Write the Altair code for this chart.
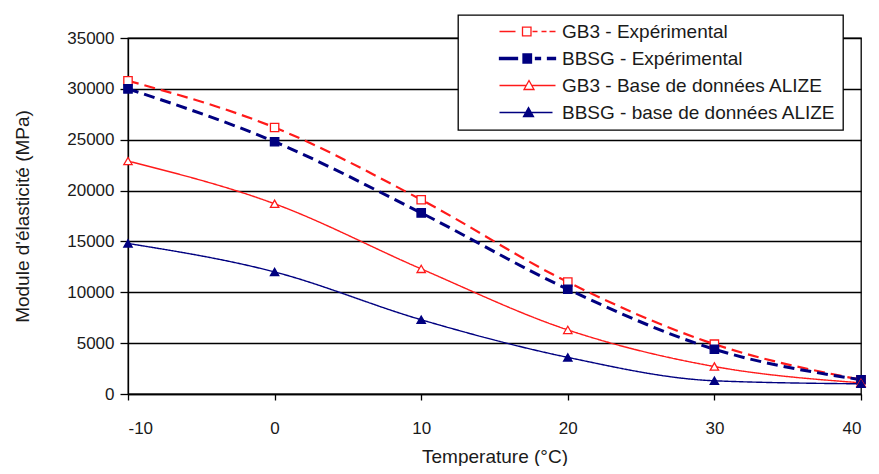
import altair as alt
import pandas as pd

# ---- data ----
temps = [-10, 0, 10, 20, 30, 40]
series = [
    "GB3 - Expérimental",
    "BBSG - Expérimental",
    "GB3 - Base de données ALIZE",
    "BBSG - base de données ALIZE",
]
gb3_exp = [30800, 26200, 19100, 11000, 4900, 1400]
bbsg_exp = [30000, 24800, 17800, 10300, 4400, 1400]
gb3_alize = [22900, 18700, 12300, 6300, 2700, 1100]
bbsg_alize = [14800, 12000, 7300, 3600, 1300, 1000]
markers = ["square", "square", "triangle-up", "triangle-up"]
y_ticks = [0, 5000, 10000, 15000, 20000, 25000, 30000, 35000]
x_ticks = [-10, 0, 10, 20, 30, 40]

rows = []
for name, vals, mk in zip(series, [gb3_exp, bbsg_exp, gb3_alize, bbsg_alize], markers):
    for t, v in zip(temps, vals):
        rows.append({"T": t, "E": v, "series": name, "marker": mk})
df = pd.DataFrame(rows)

RED = "#FF1A1A"
NAVY = "#000080"
FONT = "Liberation Sans"

# ---- legend glyphs (line + marker) as custom symbol paths ----
BOX_LEFT = 458
LEG_PAD = 7
SYM = 16  # symbol box size in px
CX = BOX_LEFT + LEG_PAD + SYM / 2
U = SYM / 2
G0 = BOX_LEFT + 40  # glyph start


def u(px):
    return f"{(px - CX) / U:.3f}"


def uy(py):
    return f"{py / U:.3f}"


def hseg(a, b):
    return f"M{u(G0 + a)},0H{u(G0 + b)}"


def rect(a, b, h):
    return f"M{u(G0 + a)},{uy(-h)}H{u(G0 + b)}V{uy(h)}H{u(G0 + a)}Z"


def tri(c, top, bot, half):
    return f"M{u(G0 + c)},{uy(top)}L{u(G0 + c + half)},{uy(bot)}H{u(G0 + c - half)}Z"


# glyph geometry in px measured from the glyph start
path_gb3_exp = hseg(0, 16) + hseg(33, 38) + hseg(42, 47) + hseg(50, 56) + rect(23, 31.5, 4.3)
path_bbsg_exp = rect(0, 18, 1.0) + rect(36, 41, 1.0) + rect(48, 56, 1.0) + rect(23.5, 32, 4.5)
path_gb3_alize = hseg(0, 26.8) + hseg(32.2, 56) + tri(29.5, -5, 4, 5)
path_bbsg_alize = hseg(0, 53) + tri(29, -5, 4, 5)
legend_paths = [path_gb3_exp, path_bbsg_exp, path_gb3_alize, path_bbsg_alize]

color_scale = alt.Scale(domain=series, range=[RED, NAVY, RED, NAVY])
fill_scale = alt.Scale(domain=series, range=["white", NAVY, "white", NAVY])
LEG = alt.Legend(title=None)

x_enc = alt.X(
    "T:Q",
    scale=alt.Scale(domain=[-10, 40], nice=False, zero=False),
    axis=alt.Axis(
        values=x_ticks, grid=False, labelExpr="'' + datum.value", title="Temperature (°C)",
        tickSize=6, labelPadding=20, titleY=68, titleBaseline="alphabetic",
        titleAnchor="middle",
    ),
)
y_enc = alt.Y(
    "E:Q",
    scale=alt.Scale(domain=[0, 35000], nice=False),
    axis=alt.Axis(
        values=y_ticks, grid=True, labelExpr="'' + datum.value", title="Module d'élasticité (MPa)",
        tickSize=8, labelPadding=6, titleX=-106, titleY=178, titleAngle=-90,
        titleAlign="center", titleBaseline="middle",
    ),
)

base = alt.Chart(df)

legend_layer = base.mark_point(opacity=0, strokeWidth=1.3).encode(
    x=x_enc,
    y=y_enc,
    color=alt.Color("series:N", scale=color_scale, legend=LEG),
    fill=alt.Fill("series:N", scale=fill_scale, legend=LEG),
    shape=alt.Shape("series:N", scale=alt.Scale(domain=series, range=legend_paths), legend=LEG),
)


def line_layer(name, dash, width):
    return base.transform_filter(alt.datum.series == name).mark_line(
        interpolate="monotone", strokeDash=dash, strokeWidth=width
    ).encode(
        x=x_enc,
        y=y_enc,
        color=alt.Color("series:N", scale=color_scale, legend=LEG),
    )


lines = [
    line_layer(series[0], [11, 6], 2.2),
    line_layer(series[1], [11, 6], 3),
    line_layer(series[2], [1, 0], 1.4),
    line_layer(series[3], [1, 0], 1.4),
]

points = base.mark_point(size=70, strokeWidth=1.3, opacity=1).encode(
    x=x_enc,
    y=y_enc,
    color=alt.Color("series:N", scale=color_scale, legend=LEG),
    fill=alt.Fill("series:N", scale=fill_scale, legend=LEG),
    shape=alt.Shape("marker:N", scale=None, legend=None),
)

chart = (
    alt.layer(legend_layer, *lines, points)
    .properties(
        width=733,
        height=356,
        autosize=alt.AutoSizeParams(type="none"),
        padding={"left": 120, "top": 30, "right": 9, "bottom": 72},
    )
    .configure(font=FONT)
    .configure_view(stroke="black", strokeWidth=1.3)
    .configure_axis(
        domainColor="black", domainWidth=1.3, tickColor="black", tickWidth=1.3,
        gridColor="black", gridWidth=1.3, gridOpacity=1,
        labelFont=FONT, labelFontSize=17, labelColor="#1a1a1a",
        titleFont=FONT, titleFontSize=19, titleFontWeight="normal", titleColor="#1a1a1a",
    )
    .configure_legend(
        orient="none", legendX=BOX_LEFT - 128, legendY=15 - 38,
        padding=LEG_PAD, strokeColor="black", strokeWidth=1.3, fillColor="white",
        cornerRadius=0,
        symbolSize=SYM * SYM, symbolStrokeWidth=1.3, symbolOpacity=1,
        symbolFillColor="white", symbolStrokeColor="black",
        labelFont=FONT, labelFontSize=19, labelColor="#1a1a1a",
        labelOffset=78, rowPadding=7, labelLimit=600,
    )
)

chart.save("out.html", embed_options={"renderer": "svg", "actions": False})
